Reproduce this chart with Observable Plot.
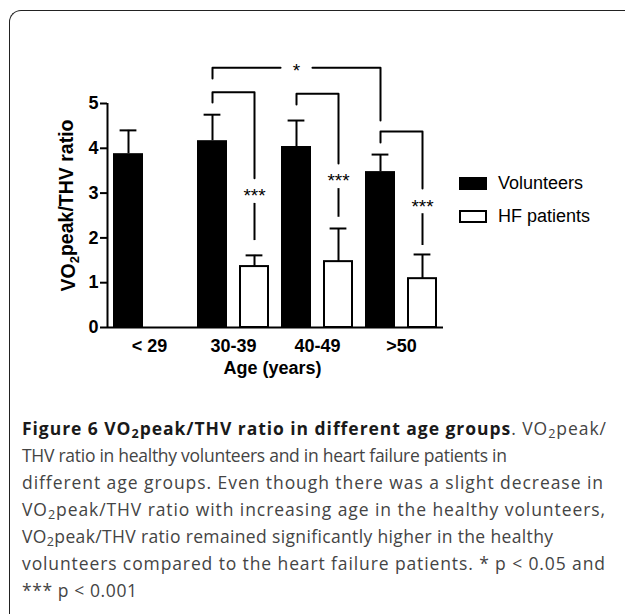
<!DOCTYPE html>
<html><head><meta charset="utf-8">
<script src="https://cdn.jsdelivr.net/npm/d3@7"></script>
<script src="https://cdn.jsdelivr.net/npm/@observablehq/plot@0.6"></script>
<style>
body{margin:0;background:#fff;}
#wrap{position:relative;width:627px;height:614px;overflow:hidden;background:#fff;}
#frame{position:absolute;left:9px;top:10px;width:616px;height:640px;border-top:1.5px solid #222;border-left:1.5px solid #222;border-top-left-radius:12px;box-sizing:border-box;}
#chart{position:absolute;left:0;top:0;}
#legend{position:absolute;left:459px;top:167px;font-family:"Liberation Sans",Arial,sans-serif;font-size:18px;color:#000;}
.item{display:flex;align-items:center;height:33px;}
.sw{width:28px;height:13px;box-sizing:border-box;margin-right:11px;}
#caption{position:absolute;left:22px;top:415px;font-family:"Open Sans",sans-serif;font-size:17.5px;line-height:27px;color:#444;white-space:nowrap;}
#caption .row{display:block;height:27px;}
#caption b{color:#1a1a1a;}
#caption sub{font-size:72%;vertical-align:-0.2em;line-height:0;}
</style></head>
<body>
<div id="wrap">
<div id="frame"></div>
<div id="chart"></div>
<div id="legend"></div>
<div id="caption">
<div class="row"><span class="fit" data-w="584"><b>Figure 6 VO<sub>2</sub>peak/THV ratio in different age groups</b>. VO<sub>2</sub>peak/</span></div>
<div class="row"><span class="fit" data-w="485">THV ratio in healthy volunteers and in heart failure patients in</span></div>
<div class="row"><span class="fit" data-w="581">different age groups. Even though there was a slight decrease in</span></div>
<div class="row"><span class="fit" data-w="583">VO<sub>2</sub>peak/THV ratio with increasing age in the healthy volunteers,</span></div>
<div class="row"><span class="fit" data-w="531">VO<sub>2</sub>peak/THV ratio remained significantly higher in the healthy</span></div>
<div class="row"><span class="fit" data-w="583">volunteers compared to the heart failure patients. * p &lt; 0.05 and</span></div>
<div class="row"><span class="fit" data-w="115">*** p &lt; 0.001</span></div>
</div>
</div>
<script>
// ---- data ----
const groups = ["< 29", "30-39", "40-49", ">50"];
const series = ["Volunteers", "HF patients"];
const volMean = [3.88, 4.17, 4.04, 3.48];
const volSD   = [0.52, 0.58, 0.58, 0.38];
const hfMean  = [null, 1.36, 1.47, 1.09];
const hfSD    = [null, 0.25, 0.74, 0.54];
const yTicks  = [0, 1, 2, 3, 4, 5];
const yLabel = "VO2peak/THV ratio";
const xLabel = "Age (years)";

// within-group significance brackets (Volunteers vs HF patients)
const pairGroupIdx  = [1, 2, 3];
const pairLabel     = ["***", "***", "***"];
const pairTop       = [5.25, 5.22, 4.375];
const pairLeftEnd   = [5.02, 4.98, 4.13];
const pairGapTop    = [3.33, 3.66, 3.10];
const pairLabelY    = [3.02, 3.34, 2.78];
const pairGapBottom = [2.77, 3.10, 2.54];
const pairRightEnd  = [1.94, 2.46, 1.83];

// across-group bracket (30-39 vs >50 volunteers)
const acrossFrom = 1, acrossTo = 3;
const acrossLabel = "*";
const acrossTop = 5.80, acrossLeftEnd = 5.56, acrossRightEnd = 4.62;
const acrossGapHalf = 0.38; // half-width of the gap around the label, in slot units

// ---- build table ----
const rows = [];
groups.forEach((g, i) => {
  rows.push({group: g, series: series[0], slot: 2 * i, mean: volMean[i], sd: volSD[i]});
  if (hfMean[i] != null) rows.push({group: g, series: series[1], slot: 2 * i + 1, mean: hfMean[i], sd: hfSD[i]});
});
const vol = rows.filter(d => d.series === series[0]);
const hf = rows.filter(d => d.series === series[1]);

const brackets = pairGroupIdx.map((gi, k) => ({
  xl: 2 * gi + 0.5, xr: 2 * gi + 1.5,
  top: pairTop[k], leftEnd: pairLeftEnd[k], gapTop: pairGapTop[k],
  labelY: pairLabelY[k], gapBottom: pairGapBottom[k], rightEnd: pairRightEnd[k], label: pairLabel[k]
}));
const upperPaths = brackets.map(b => [[b.xl, b.leftEnd], [b.xl, b.top], [b.xr, b.top], [b.xr, b.gapTop]]);
const ax1 = 2 * acrossFrom + 0.5, ax2 = 2 * acrossTo + 0.5, amid = (ax1 + ax2) / 2;
const acrossPaths = [
  [[ax1, acrossLeftEnd], [ax1, acrossTop], [amid - acrossGapHalf, acrossTop]],
  [[amid + acrossGapHalf, acrossTop], [ax2, acrossTop], [ax2, acrossRightEnd]]
];
const allPaths = upperPaths.concat(acrossPaths).flatMap((p, i) => p.map(([x, y]) => ({x, y, id: i})));

const chart = Plot.plot({
  width: 627, height: 390,
  marginLeft: 107, marginRight: 184, marginTop: 103, marginBottom: 63,
  style: {fontFamily: "'Liberation Sans', Arial, sans-serif", fontSize: "18px", fontWeight: "bold", color: "#000", overflow: "visible", background: "transparent"},
  x: {type: "linear", domain: [0, 2 * groups.length], axis: null},
  y: {domain: [0, 5], axis: null},
  marks: [
    Plot.rectY(vol, {x1: d => d.slot, x2: d => d.slot + 1, y1: 0, y2: "mean", insetLeft: 6, insetRight: 6, fill: "black"}),
    Plot.rectY(hf, {x1: d => d.slot, x2: d => d.slot + 1, y1: 0, y2: "mean", insetLeft: 7, insetRight: 7, fill: "white", stroke: "black", strokeWidth: 2}),
    Plot.ruleX(rows, {x: d => d.slot + 0.5, y1: "mean", y2: d => d.mean + d.sd, stroke: "black", strokeWidth: 2}),
    Plot.ruleY(rows, {y: d => d.mean + d.sd, x1: d => d.slot + 0.3, x2: d => d.slot + 0.7, stroke: "black", strokeWidth: 2}),
    Plot.ruleY([0], {stroke: "black", strokeWidth: 2}),
    Plot.ruleX([0], {y1: 0, y2: 5, stroke: "black", strokeWidth: 2}),
    Plot.axisY(yTicks, {tickSize: 7, tickPadding: 2, strokeWidth: 2, label: null, fontWeight: "bold"}),
    Plot.axisX(groups.map((g, i) => 2 * i + 1), {tickFormat: d => groups[(d - 1) / 2], tickSize: 0, tickPadding: 12, label: null}),
    Plot.line(allPaths, {x: "x", y: "y", z: "id", stroke: "black", strokeWidth: 2, curve: "linear"}),
    Plot.ruleX(brackets, {x: "xr", y1: "gapBottom", y2: "rightEnd", stroke: "black", strokeWidth: 2}),
    Plot.text(brackets, {x: "xr", y: "labelY", text: "label", fontWeight: "normal", fontSize: 19, dy: 3.5}),
    Plot.text([acrossLabel], {x: amid, y: acrossTop, text: d => d, fontWeight: "normal", fontSize: 19, dy: 3.5}),
    Plot.text([xLabel], {frameAnchor: "bottom", lineAnchor: "middle", dy: 41, dx: -3, text: d => d, fontSize: 18}),
    Plot.text([yLabel], {frameAnchor: "left", textAnchor: "middle", lineAnchor: "middle", rotate: -90, dx: -39, dy: -10, text: d => d, fontSize: 19.5})
  ]
});
document.getElementById("chart").appendChild(chart);

// subscript "2" in the axis label
d3.select(chart).selectAll("text").filter(function () { return this.textContent === yLabel; })
  .each(function () {
    const t = d3.select(this);
    t.text(null);
    t.append("tspan").text("VO");
    t.append("tspan").attr("font-size", "13px").attr("dy", "0.3em").text("2");
    t.append("tspan").attr("dy", "-0.3em").text("peak/THV ratio");
  });

// legend
const legend = d3.select("#legend");
series.forEach((s, i) => {
  const it = legend.append("div").attr("class", "item");
  it.append("div").attr("class", "sw")
    .style("background", i === 0 ? "#000" : "#fff")
    .style("border", "2px solid #000");
  it.append("span").text(s);
});

// fit caption lines to the widths seen in the figure (letter spacing)
document.querySelectorAll("#caption .fit").forEach(el => {
  const target = +el.dataset.w;
  const natural = el.getBoundingClientRect().width;
  const n = el.textContent.length - 1;
  el.style.letterSpacing = ((target - natural) / n).toFixed(3) + "px";
});
</script>
</body></html>
